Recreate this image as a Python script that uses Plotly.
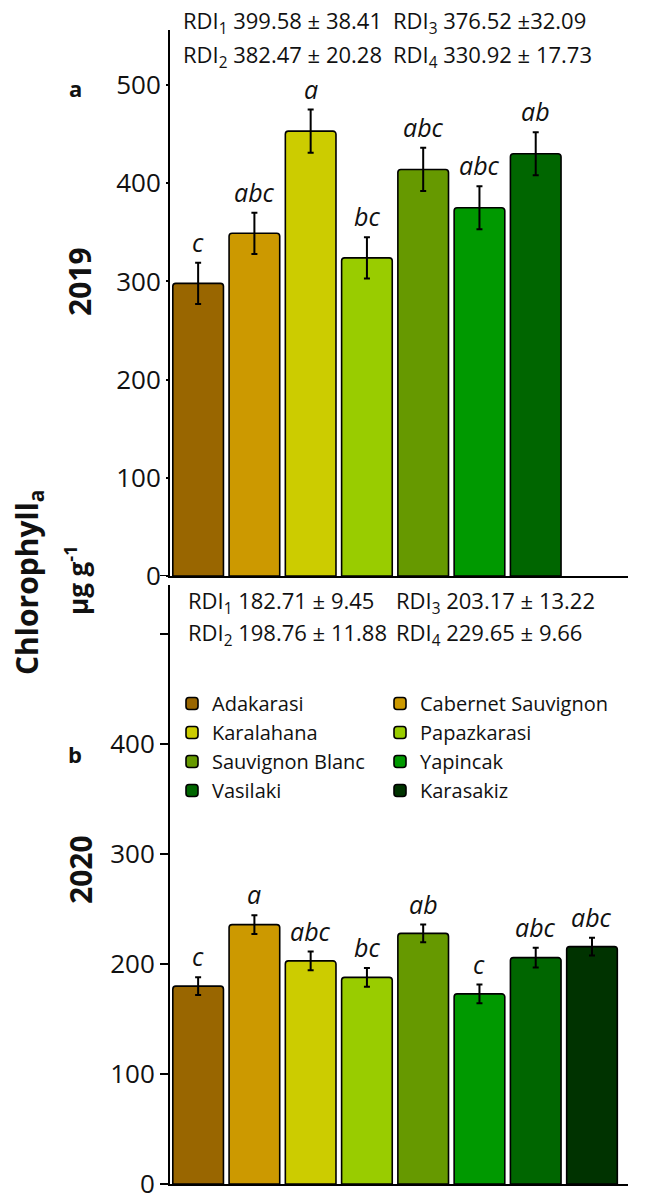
import plotly.graph_objects as go

# ---------------- data ----------------
varieties = ["Adakarasi", "Cabernet Sauvignon", "Karalahana", "Papazkarasi",
             "Sauvignon Blanc", "Yapincak", "Vasilaki", "Karasakiz"]
colors = ["#996600", "#CC9900", "#CCCC00", "#99CC00",
          "#669900", "#009900", "#006600", "#003300"]

chl_2019 = [298, 349, 453, 324, 414, 375, 430, None]
err_2019 = [21, 21, 22, 21, 22, 22, 22, None]
letters_2019 = ["c", "abc", "a", "bc", "abc", "abc", "ab", ""]

chl_2020 = [180, 236, 203, 188, 228, 173, 206, 216]
err_2020 = [8, 8.5, 8.5, 8.5, 8, 8.5, 9, 8]
letters_2020 = ["c", "a", "abc", "bc", "ab", "c", "abc", "abc"]

rdi_2019_col1 = ["RDI<sub>1</sub> 399.58 ± 38.41", "RDI<sub>2</sub> 382.47 ± 20.28"]
rdi_2019_col2 = ["RDI<sub>3</sub> 376.52 ±32.09", "RDI<sub>4</sub> 330.92 ± 17.73"]
rdi_2020_col1 = ["RDI<sub>1</sub> 182.71 ± 9.45", "RDI<sub>2</sub> 198.76 ± 11.88"]
rdi_2020_col2 = ["RDI<sub>3</sub> 203.17 ± 13.22", "RDI<sub>4</sub> 229.65 ± 9.66"]

tick_vals = [0, 100, 200, 300, 400, 500]
tick_text_top = ["0", "100", "200", "300", "400", "500"]
tick_text_bottom = ["0", "100", "200", "300", "400", ""]

# ---------------- layout helpers ----------------
W, H = 646, 1201
def px(x):
    return x / W
def py(y):
    return 1 - y / H

FONT = "Open Sans"
TXT = "#111111"

fig = go.Figure()

col1 = ["Adakarasi", "Karalahana", "Sauvignon Blanc", "Vasilaki"]

for i, v in enumerate(varieties):
    if chl_2019[i] is not None:
        fig.add_trace(go.Bar(
            x=[v], y=[chl_2019[i]], xaxis="x", yaxis="y",
            width=0.9, marker=dict(color=colors[i], line=dict(color="black", width=1.6)),
            error_y=dict(type="data", array=[err_2019[i]], color="black", thickness=2, width=3),
            showlegend=False, legendgroup=v, name=v))
    fig.add_trace(go.Bar(
        x=[v], y=[chl_2020[i]], xaxis="x2", yaxis="y2",
        width=0.9, marker=dict(color=colors[i], line=dict(color="black", width=1.6)),
        error_y=dict(type="data", array=[err_2020[i]], color="black", thickness=2, width=3),
        showlegend=True, legendgroup=v, name=v,
        legend="legend" if v in col1 else "legend2"))

annotations = []
# significance letters
for i, v in enumerate(varieties):
    if chl_2019[i] is not None and letters_2019[i]:
        annotations.append(dict(x=v, y=chl_2019[i] + err_2019[i], xref="x", yref="y",
                                text=f"<i>{letters_2019[i]}</i>", showarrow=False,
                                xanchor="center", yanchor="bottom", yshift=2,
                                font=dict(family=FONT, size=25, color=TXT)))
    annotations.append(dict(x=v, y=chl_2020[i] + err_2020[i], xref="x2", yref="y2",
                            text=f"<i>{letters_2020[i]}</i>", showarrow=False,
                            xanchor="center", yanchor="bottom", yshift=2,
                            font=dict(family=FONT, size=25, color=TXT)))

# RDI texts
def rdi(text, x, y):
    annotations.append(dict(x=px(x), y=py(y), xref="paper", yref="paper", text=text,
                            showarrow=False, xanchor="left", yanchor="middle",
                            font=dict(family=FONT, size=22, color=TXT)))

rdi(rdi_2019_col1[0], 181, 22)
rdi(rdi_2019_col1[1], 181, 56)
rdi(rdi_2019_col2[0], 391, 22)
rdi(rdi_2019_col2[1], 391, 56)
rdi(rdi_2020_col1[0], 186, 602)
rdi(rdi_2020_col1[1], 186, 634)
rdi(rdi_2020_col2[0], 394, 602)
rdi(rdi_2020_col2[1], 394, 634)

def label(text, x, y, size, angle=0):
    annotations.append(dict(x=px(x), y=py(y), xref="paper", yref="paper", text=text,
                            textangle=angle, showarrow=False, xanchor="center", yanchor="middle",
                            font=dict(family=FONT, size=size, color=TXT)))

# panel letters, year labels, axis title
label("<b>a</b>", 75, 88, 22)
label("<b>b</b>", 75, 754, 22)
label("<b>2019</b>", 80, 282, 30, -90)
label("<b>2020</b>", 80, 870, 30, -90)
label("<b>Chlorophyll<sub>a</sub></b>", 28, 582, 30, -90)
label("<b>μg g<sup>-1</sup></b>", 77, 580, 26, -90)

axis_common = dict(showgrid=False, zeroline=False, showline=True, linecolor="black",
                   linewidth=2, automargin=False)
x_dom = [px(170), px(628)]
x_rng = [-0.5, 7.64]

fig.update_layout(
    width=W, height=H,
    margin=dict(l=0, r=0, t=0, b=0, autoexpand=False),
    paper_bgcolor="white", plot_bgcolor="white",
    barmode="overlay", barcornerradius=3,
    font=dict(family=FONT, color=TXT),
    xaxis=dict(domain=x_dom, range=x_rng, anchor="y", showticklabels=False, ticks="",
               categoryorder="array", categoryarray=varieties, **axis_common),
    xaxis2=dict(domain=x_dom, range=x_rng, anchor="y2", showticklabels=False, ticks="",
                categoryorder="array", categoryarray=varieties, **axis_common),
    yaxis=dict(domain=[py(576), py(30)], range=[0, 556], anchor="x",
               tickmode="array", tickvals=tick_vals, ticktext=tick_text_top,
               ticks="outside", ticklen=2, tickwidth=1.5, tickcolor="black",
               ticklabeloverflow="allow",
               tickfont=dict(family=FONT, size=26, color=TXT), **axis_common),
    yaxis2=dict(domain=[py(1184), py(585)], range=[0, 545], anchor="x2",
                tickmode="array", tickvals=tick_vals, ticktext=tick_text_bottom,
                ticks="outside", ticklen=8, tickwidth=1.5, tickcolor="black",
                ticklabeloverflow="allow",
                tickfont=dict(family=FONT, size=26, color=TXT), **axis_common),
    legend=dict(x=px(172), y=py(684), xanchor="left", yanchor="top",
                orientation="v", tracegroupgap=0, bgcolor="rgba(0,0,0,0)",
                font=dict(family=FONT, size=20, color=TXT)),
    legend2=dict(x=px(380), y=py(684), xanchor="left", yanchor="top",
                 orientation="v", tracegroupgap=0, bgcolor="rgba(0,0,0,0)",
                 font=dict(family=FONT, size=20, color=TXT)),
    annotations=annotations,
    shapes=[dict(type="line", xref="paper", yref="y", x0=px(160), x1=px(170), y0=0, y1=0,
                 line=dict(color="black", width=2))],
)

fig.write_html("out.html")
